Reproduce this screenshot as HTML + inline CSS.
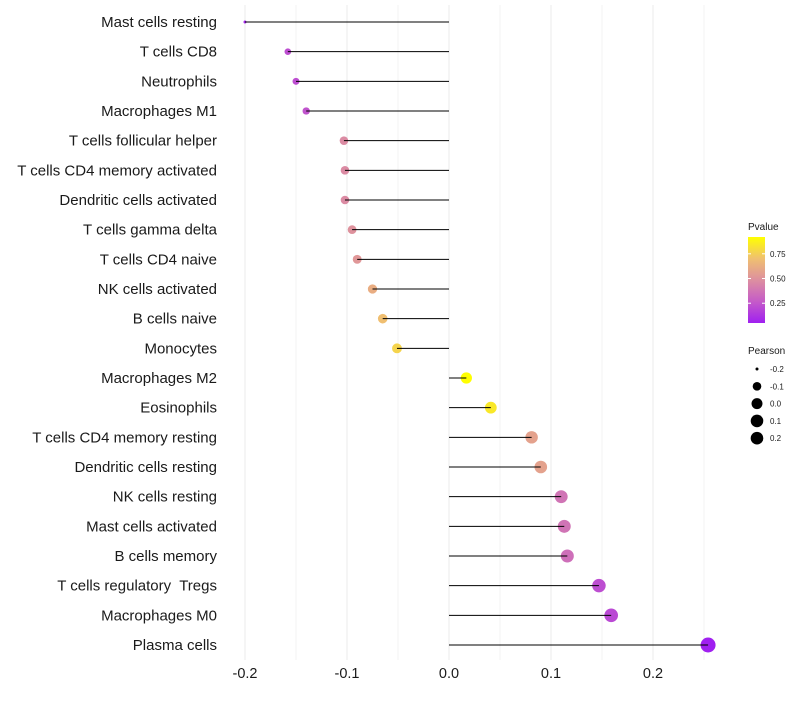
<!DOCTYPE html>
<html><head><meta charset="utf-8"><style>
body{margin:0;background:#fff;font-family:"Liberation Sans",sans-serif}
</style></head><body>
<svg id="chart" width="800" height="700" xmlns="http://www.w3.org/2000/svg" font-family="Liberation Sans, sans-serif"></svg>
<script>
const categories=["Mast cells resting","T cells CD8","Neutrophils","Macrophages M1","T cells follicular helper","T cells CD4 memory activated","Dendritic cells activated","T cells gamma delta","T cells CD4 naive","NK cells activated","B cells naive","Monocytes","Macrophages M2","Eosinophils","T cells CD4 memory resting","Dendritic cells resting","NK cells resting","Mast cells activated","B cells memory","T cells regulatory  Tregs","Macrophages M0","Plasma cells"];
const pearson=[-0.200,-0.158,-0.150,-0.140,-0.103,-0.102,-0.102,-0.095,-0.090,-0.075,-0.065,-0.051,0.017,0.041,0.081,0.090,0.110,0.113,0.116,0.147,0.159,0.254];
const pvalue=[0.07,0.22,0.22,0.24,0.47,0.47,0.47,0.5,0.52,0.62,0.7,0.77,0.92,0.84,0.57,0.57,0.37,0.37,0.35,0.22,0.2,0.05];
const xTicks=[-0.2,-0.1,0.0,0.1,0.2];
const xTickLabels=["-0.2","-0.1","0.0","0.1","0.2"];
const pTicks=[0.25,0.5,0.75];
const pTickLabels=["0.25","0.50","0.75"];
const sizeTicks=[-0.2,-0.1,0.0,0.1,0.2];
const sizeTickLabels=["-0.2","-0.1","0.0","0.1","0.2"];

const NS="http://www.w3.org/2000/svg";
const svg=document.getElementById('chart');
function mk(t,a,p){const e=document.createElementNS(NS,t);for(const k in a)e.setAttribute(k,a[k]);(p||svg).appendChild(e);return e;}
const xs=v=>449+(v)*1020;
const ys=i=>22+i*((645-22)/21);
const pmin=0.05,pmax=0.92;
const stops=[[0,[160,32,240]],[0.25,[197,91,200]],[0.5,[221,143,160]],[0.75,[240,192,112]],[1,[255,255,0]]];
function col(p){let t=(p-pmin)/(pmax-pmin);t=Math.max(0,Math.min(1,t));for(let i=1;i<stops.length;i++){if(t<=stops[i][0]){const a=stops[i-1],b=stops[i];const f=(t-a[0])/(b[0]-a[0]);const c=a[1].map((v,j)=>Math.round(v+(b[1][j]-v)*f));return `rgb(${c})`;}}return 'rgb(255,255,0)';}
const smin=-0.2,smax=0.254;
function rad(v){const f=Math.max(0,(v-smin)/(smax-smin));return 1.5+6*Math.sqrt(f);}

for(let g=-0.2;g<=0.251;g+=0.05){const l=mk('line',{x1:xs(g),x2:xs(g),y1:5,y2:660,stroke:'#ebebeb','stroke-width':Math.abs(Math.round(g*20))%2==0?1:0.6});

}
xTicks.forEach((t,i)=>{const e=mk('text',{x:xs(t),y:678,'text-anchor':'middle','font-size':14.5,fill:'#1a1a1a'});e.textContent=xTickLabels[i];

});
categories.forEach((c,i)=>{const y=ys(i);
const lab=mk('text',{x:217,y:y+5,'text-anchor':'end','font-size':15,fill:'#1a1a1a',style:'white-space:pre'});lab.textContent=c;


const dot=mk('circle',{cx:xs(pearson[i]),cy:y,r:rad(pearson[i]),fill:col(pvalue[i])});


const ln=mk('line',{x1:xs(0),x2:xs(pearson[i]),y1:y,y2:y,stroke:'#000','stroke-width':1});


});
const g1=mk('g',{});
const tt=mk('text',{x:748,y:230,'font-size':10,fill:'#1a1a1a'},g1);tt.textContent='Pvalue';
const defs=mk('defs',{});const lg=mk('linearGradient',{id:'pg',x1:0,y1:1,x2:0,y2:0},defs);
stops.forEach(s=>mk('stop',{offset:s[0],'stop-color':`rgb(${s[1]})`},lg));
const bt=237,bb=323,by=p=>bb-(p-pmin)/(pmax-pmin)*(bb-bt);
mk('rect',{x:748,y:bt,width:17,height:bb-bt,fill:'url(#pg)'},g1);
pTicks.forEach((p,i)=>{mk('line',{x1:748,x2:751,y1:by(p),y2:by(p),stroke:'#fff'},g1);mk('line',{x1:762,x2:765,y1:by(p),y2:by(p),stroke:'#fff'},g1);
const e=mk('text',{x:770,y:by(p)+3,'font-size':8,fill:'#1a1a1a'},g1);e.textContent=pTickLabels[i];});
const g2=mk('g',{});
const st=mk('text',{x:748,y:354,'font-size':10,fill:'#1a1a1a'},g2);st.textContent='Pearson';
sizeTicks.forEach((v,i)=>{const y=369+i*17.3;mk('circle',{cx:757,cy:y,r:Math.min(rad(v),6.3),fill:'#000'},g2);
const e=mk('text',{x:770,y:y+3,'font-size':8,fill:'#1a1a1a'},g2);e.textContent=sizeTickLabels[i];});
</script>
</body></html>
